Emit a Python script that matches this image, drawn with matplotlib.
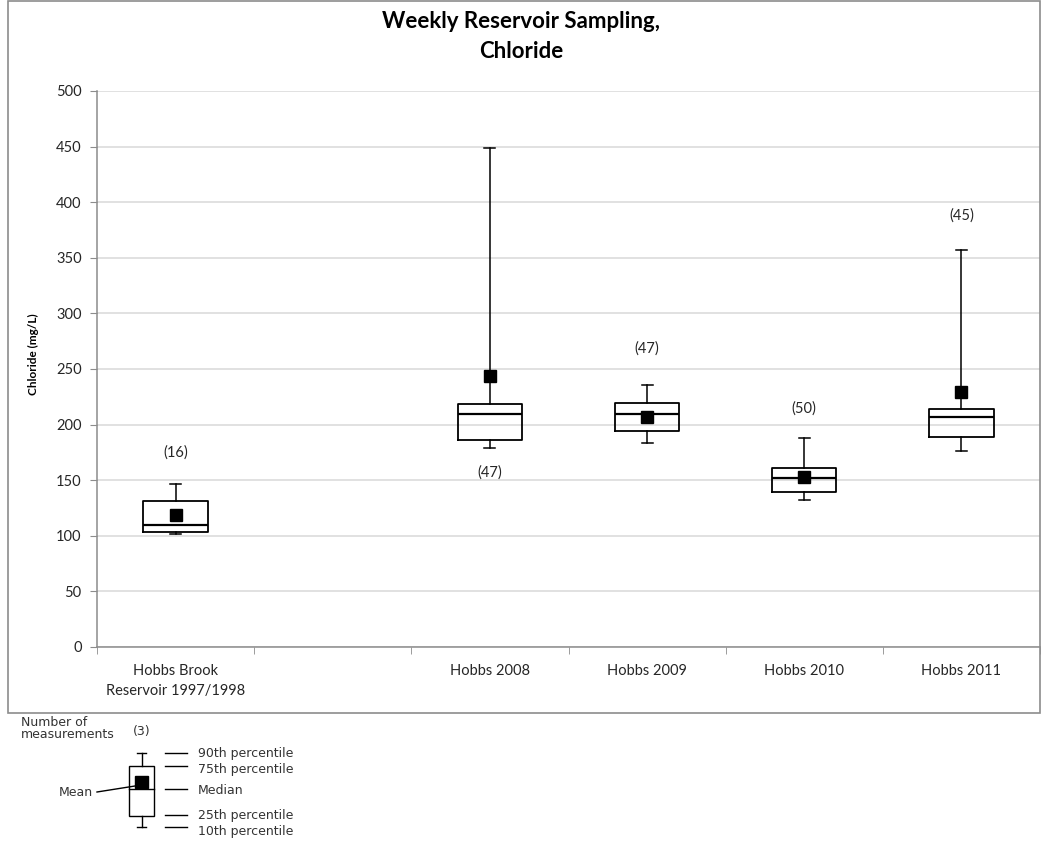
#!/usr/bin/env python3
"""Weekly reservoir sampling, chloride box plots (10/25/50/75/90 percentiles + mean)."""
import matplotlib
matplotlib.use('Agg')
import matplotlib.pyplot as plt
from matplotlib.patches import Rectangle
from matplotlib.lines import Line2D

plt.rcParams['font.family'] = ['Lato', 'DejaVu Sans']

# data (mg/L), one entry per drawn box
categories = ['Hobbs Brook\nReservoir 1997/1998', '', 'Hobbs 2008',
              'Hobbs 2009', 'Hobbs 2010', 'Hobbs 2011']
slots = [0, 2, 3, 4, 5]
p10 = [101.6, 179.0, 183.5, 132.5, 176.5]
p25 = [103.0, 186.4, 194.0, 139.4, 188.8]
p50 = [110.0, 209.8, 209.8, 152.3, 206.5]
p75 = [131.6, 218.2, 219.7, 161.3, 213.7]
p90 = [146.6, 448.4, 235.6, 188.0, 357.0]
means = [118.4, 243.7, 207.0, 153.0, 229.0]
counts = [16, 47, 47, 50, 45]
count_label_y = [175, 157, 268, 214, 388]

W, H = 1041, 841
fig = plt.figure(figsize=(W / 100, H / 100), dpi=100)


def fx(px):
    return px / W


def fy(py):
    return 1 - py / H


# outer chart frame
fig.patches.append(Rectangle((fx(8), fy(713)), fx(1040) - fx(8), fy(0.5) - fy(713),
                             transform=fig.transFigure, fill=False,
                             edgecolor='#8c8c8c', lw=1.2))

ax = fig.add_axes([fx(97), fy(647), fx(1040) - fx(97), fy(91) - fy(647)])

stats = []
for i in range(len(slots)):
    stats.append(dict(whislo=p10[i], q1=p25[i], med=p50[i], q3=p75[i],
                      whishi=p90[i], mean=means[i], fliers=[]))
ax.bxp(stats, positions=slots, widths=0.41, capwidths=0.07,
       showmeans=True, showfliers=False, patch_artist=False,
       boxprops=dict(color='black', lw=1.3),
       medianprops=dict(color='black', lw=1.6),
       whiskerprops=dict(color='black', lw=1.1),
       capprops=dict(color='black', lw=1.1),
       meanprops=dict(marker='s', markerfacecolor='black',
                      markeredgecolor='black', markersize=9))

for x, n, y in zip(slots, counts, count_label_y):
    ax.text(x, y, f'({n})', ha='center', va='center', fontsize=10.5,
            color='#262626')

ax.set_xlim(-0.5, len(categories) - 0.5)
ax.set_ylim(0, 500)
ax.set_yticks(range(0, 501, 50))
ax.set_xticks(range(len(categories)))
ax.set_xticklabels(categories, fontsize=10.5, color='#262626', linespacing=1.6)
ax.set_xticks([i - 0.5 for i in range(len(categories) + 1)], minor=True)
ax.tick_params(axis='x', which='major', length=0, pad=12)
ax.tick_params(axis='x', which='minor', length=5, color='#8c8c8c')
ax.tick_params(axis='y', length=5, color='#8c8c8c', labelsize=10.5,
               labelcolor='#262626', pad=6)
ax.grid(axis='y', color='#d9d9d9', lw=1.1)
ax.set_axisbelow(True)
for s in ['top', 'right']:
    ax.spines[s].set_visible(False)
for s in ['left', 'bottom']:
    ax.spines[s].set_color('#8c8c8c')
    ax.spines[s].set_linewidth(1.1)

fig.text(fx(33), fy(354), 'Chloride (mg/L)', rotation=90, ha='center',
         va='center', fontsize=8.5, fontweight='bold')
fig.text(fx(521), fy(22), 'Weekly Reservoir Sampling,', ha='center',
         va='center', fontsize=16, fontweight='bold')
fig.text(fx(521), fy(52), 'Chloride', ha='center', va='center',
         fontsize=16, fontweight='bold')

# key explaining the box symbols
key = dict(transform=fig.transFigure, color='black', lw=1)
lk = dict(family='DejaVu Sans', fontsize=9, color='#333333', va='center')
fig.add_artist(Rectangle((fx(129), fy(816)), fx(154) - fx(129), fy(766) - fy(816),
                         transform=fig.transFigure, fill=False,
                         edgecolor='black', lw=1))
fig.add_artist(Line2D([fx(129), fx(154)], [fy(789), fy(789)], **key))
fig.add_artist(Line2D([fx(141.5)] * 2, [fy(753), fy(766)], **key))
fig.add_artist(Line2D([fx(141.5)] * 2, [fy(816), fy(827)], **key))
fig.add_artist(Line2D([fx(137), fx(146)], [fy(753)] * 2, **key))
fig.add_artist(Line2D([fx(137), fx(146)], [fy(827)] * 2, **key))
fig.add_artist(Rectangle((fx(135), fy(788)), fx(148) - fx(135), fy(776) - fy(788),
                         transform=fig.transFigure, facecolor='black',
                         edgecolor='black'))
fig.add_artist(Line2D([fx(97), fx(135)], [fy(792), fy(786)], **key))
fig.text(fx(59), fy(792), 'Mean', ha='left', **lk)
fig.text(fx(21), fy(723), 'Number of', ha='left', **lk)
fig.text(fx(21), fy(734), 'measurements', ha='left', **lk)
fig.text(fx(142), fy(732), '(3)', ha='center', **lk)
for py, ty, lab in [(753, 753, '90th percentile'), (766, 770, '75th percentile'),
                    (789, 791, 'Median'), (815, 816, '25th percentile'),
                    (827, 831, '10th percentile')]:
    fig.add_artist(Line2D([fx(165), fx(187)], [fy(py)] * 2, **key))
    fig.text(fx(198), fy(ty), lab, ha='left', **lk)

fig.savefig('out.png', dpi=100)
